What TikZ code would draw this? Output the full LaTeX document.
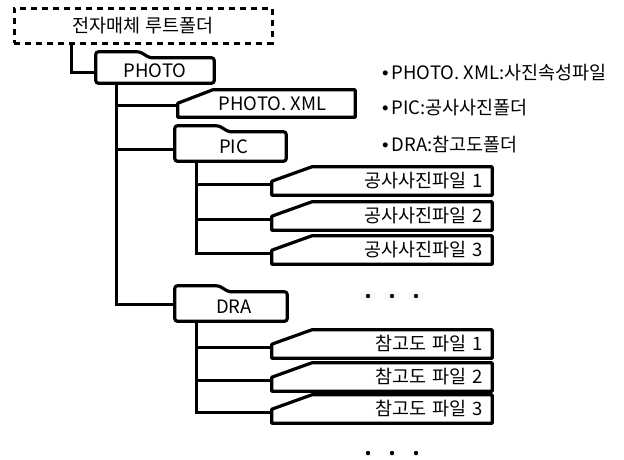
\documentclass[tikz,border=0pt]{standalone}
\usepackage{fontspec}
\setmainfont{Noto Sans CJK KR}
\newfontfamily\bulletfont{Liberation Sans}
\usetikzlibrary{calc}
\begin{document}
\begin{tikzpicture}[x=1pt,y=-1pt,
  txt/.style={font=\fontsize{18.5pt}{21pt}\selectfont},
  outl/.style={line width=3.2pt, line join=round},
  conn/.style={line width=2.7pt, line join=miter},
  folderbox/.style={txt, inner sep=0pt, minimum height=28pt},
  filebox/.style={txt, inner ysep=0pt, inner xsep=9pt, minimum height=28pt, text width=202pt, align=right},
  rootbox/.style={txt, draw, line width=3pt, dash pattern=on 6pt off 5pt, minimum width=258pt, minimum height=35pt, inner sep=0pt},
  bullettext/.style={txt, anchor=west, inner sep=0pt},
  dot/.style={fill=black}
]
\useasboundingbox (0,0) rectangle (624,459);

% folder and file macros
\newcommand\drawfolder[1]{%
  \draw[outl, rounded corners=2.5pt] (#1.south west) -- ([yshift=6pt]#1.north west)
    -- ([xshift=44pt,yshift=6pt]#1.north west) -- ([xshift=54pt]#1.north west)
    -- (#1.north east) -- (#1.south east) -- cycle;}
\newcommand\drawfile[2]{%
  \draw[outl] (#1.south west) -- ([yshift=14pt]#1.south west)
    -- ([xshift=#2]#1.north west) -- (#1.north east) -- (#1.south east) -- cycle;}

% root
\node[rootbox] (root) at (143,25.5) {전자매체 루트폴더};

% folders
\node[folderbox, minimum width=118pt, minimum height=25pt] (photo) at (155,70.5) {PHOTO\hspace{8pt}};
\node[folderbox, minimum width=177pt, minimum height=27pt] (xml) at (266.5,103.5) {\hspace{12pt}PHOTO. XML};
\node[folderbox, minimum width=111pt, minimum height=29pt] (pic) at (230.5,146.5) {\hspace{6pt}PIC};
\node[folderbox, minimum width=112pt, minimum height=29pt] (dra) at (231,306.5) {\hspace{6pt}DRA};

\drawfolder{photo}
\drawfile{xml}{35pt}
\drawfolder{pic}
\drawfolder{dra}

% files
\node[filebox] (p1) at (382,181) {공사사진파일 1};
\node[filebox] (p2) at (382,216) {공사사진파일 2};
\node[filebox] (p3) at (382,250) {공사사진파일 3};
\node[filebox] (d1) at (382,344) {참고도 파일 1};
\node[filebox] (d2) at (382,377) {참고도 파일 2};
\node[filebox] (d3) at (382,409) {참고도 파일 3};
\foreach \f in {p1,p2,p3,d1,d2,d3} {\drawfile{\f}{40pt}}

% trunks
\coordinate (rootx) at ([xshift=59pt]root.south west);
\coordinate (trunk) at ([xshift=21pt]photo.south west);
\coordinate (pictrunk) at ([xshift=22pt]pic.south west);
\coordinate (dratrunk) at ([xshift=22pt]dra.south west);
\coordinate (xmlin) at ([yshift=12pt]xml.south west);
\coordinate (picin) at ([yshift=-3pt]pic.west);
\foreach \f in {p1,p2,p3,d1,d2,d3} {\coordinate (\f in) at ([yshift=11pt]\f.south west);}

\draw[conn] (rootx) |- ([yshift=-2pt]photo.west);
\draw[conn] (trunk) |- ([yshift=2pt]dra.west);
\draw[conn] (xmlin) -- (xmlin -| trunk);
\draw[conn] (picin) -- (picin -| trunk);
\draw[conn] (pictrunk) |- (p3in);
\draw[conn] (p1in) -- (p1in -| pictrunk);
\draw[conn] (p2in) -- (p2in -| pictrunk);
\draw[conn] (dratrunk) |- (d3in);
\draw[conn] (d1in) -- (d1in -| dratrunk);
\draw[conn] (d2in) -- (d2in -| dratrunk);

% legend
\node[bullettext] (l1) at (382,73) {{\bulletfont •}\hspace{3pt}PHOTO. XML:사진속성파일};
\node[bullettext] (l2) at (382,108) {{\bulletfont •}\hspace{3pt}PIC:공사사진폴더};
\node[bullettext] (l3) at (382,145) {{\bulletfont •}\hspace{3pt}DRA:참고도폴더};

% continuation dots
\foreach \x in {368,392,416} {
  \fill[dot] (\x,296) circle (2.2pt);
  \fill[dot] (\x,453) circle (2.2pt);
}
\end{tikzpicture}
\end{document}
